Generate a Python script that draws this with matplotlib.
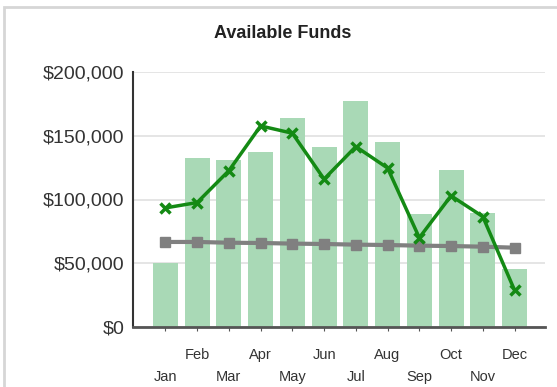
import numpy as np
import matplotlib
matplotlib.use("Agg")
import matplotlib.pyplot as plt
from matplotlib.patches import Rectangle
from matplotlib.ticker import FuncFormatter

months = ['Jan', 'Feb', 'Mar', 'Apr', 'May', 'Jun',
          'Jul', 'Aug', 'Sep', 'Oct', 'Nov', 'Dec']
bar_vals = [50000, 132300, 131200, 137000, 164300, 141500,
            177400, 145100, 88500, 123100, 89200, 45100]
funds = [93400, 97600, 122600, 157700, 152000, 116000,
         141500, 124700, 70000, 102900, 86600, 28900]
baseline = [66700, 66700, 66100, 65900, 65400, 65100,
            64600, 64300, 63800, 63500, 63000, 62200]

plt.rcParams['font.family'] = ['Liberation Sans', 'DejaVu Sans']

fig = plt.figure(figsize=(5.57, 3.87), dpi=100)
ax = fig.add_axes([133/557, 1 - 327/387, (545-133)/557, (327-72)/387])

# outer frame (only top and left edges fall inside the canvas)
fig.patches.append(Rectangle((4/557, -0.5), 2.0, 1 - 7/387 + 0.5,
                             transform=fig.transFigure, fill=False,
                             edgecolor='#d6d6d6', linewidth=2))

x = np.arange(len(months))
ax.bar(x, bar_vals, width=0.79, color='#a9d9b6', zorder=2)
ax.plot(x, baseline, color='#808080', linewidth=3, marker='s',
        markersize=7, zorder=3)
ax.plot(x, funds, color='#148a14', linewidth=2.5, marker='x',
        markersize=7, markeredgewidth=2.5, zorder=4)

ax.set_xlim(-1.02, 11.96)
ax.set_ylim(0, 200000)
ax.set_yticks([0, 50000, 100000, 150000, 200000])
ax.yaxis.set_major_formatter(FuncFormatter(lambda v, p: '${:,.0f}'.format(v)))
ax.grid(axis='y', color='#e0e0e0', linewidth=1.2, zorder=0)
ax.set_axisbelow(True)

ax.set_xticks(x)
ax.set_xticklabels(['\n' + m if i % 2 == 0 else m for i, m in enumerate(months)],
                   fontsize=10.5, color='#333333', linespacing=1.7)
ax.tick_params(axis='x', length=3, color='#555555', pad=12)
ax.tick_params(axis='y', length=0, labelsize=14, labelcolor='#333333', pad=6)

for s in ['top', 'right']:
    ax.spines[s].set_visible(False)
ax.spines['left'].set_color('#333333')
ax.spines['left'].set_linewidth(1.5)
ax.spines['bottom'].set_color('#555555')
ax.spines['bottom'].set_linewidth(2)

fig.text(283/557, 1 - 33/387, 'Available Funds', ha='center', va='center',
         fontsize=13, fontweight='bold', color='#222222')

fig.savefig('out.png', dpi=100)
